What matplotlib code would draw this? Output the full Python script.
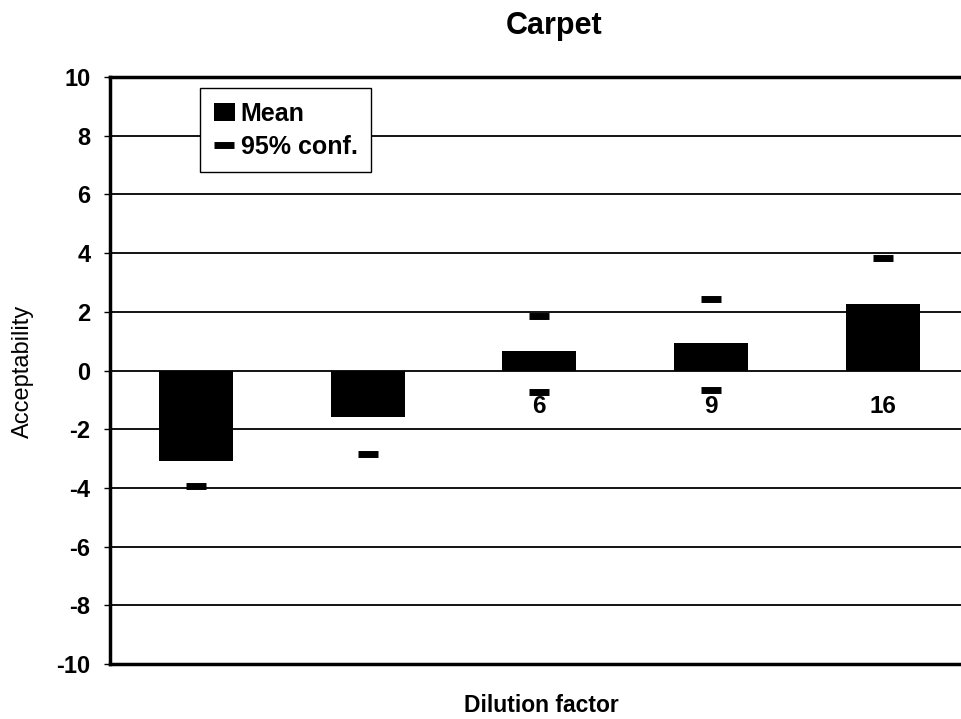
import matplotlib
matplotlib.use("Agg")
import matplotlib.pyplot as plt
import numpy as np

categories = ["2", "4", "6", "9", "16"]
mean_values = [-3.1, -1.6, 0.68, 0.92, 2.25]
conf_upper = [-2.2, -0.3, 1.87, 2.45, 3.82]
conf_lower = [-3.95, -2.86, -0.72, -0.68, 0.7]
y_ticks = [-10, -8, -6, -4, -2, 0, 2, 4, 6, 8, 10]

plt.rcParams['font.family'] = ['Liberation Sans', 'DejaVu Sans']

fig = plt.figure(figsize=(9.61, 7.19), dpi=100)
ax = fig.add_axes([110/961, 55/719, 1 - 110/961, (664-77)/719])

x = np.arange(len(categories))

for yv in y_ticks:
    ax.axhline(yv, color='black', lw=1.3, zorder=1)

# category labels at axis crossing (behind bars)
for xi, lab in zip(x, categories):
    ax.annotate(lab, (xi, 0), xytext=(0, -26), textcoords='offset points',
                ha='center', va='center', fontsize=17.5, fontweight='bold', zorder=1.5)

ax.plot(x, conf_upper, linestyle='none', marker='_', markersize=15,
        markeredgewidth=5, color='black', zorder=2, label='95% conf.')
ax.plot(x, conf_lower, linestyle='none', marker='_', markersize=15,
        markeredgewidth=5, color='black', zorder=2)
ax.bar(x, mean_values, width=0.43, color='black', zorder=3, label='Mean')

ax.set_xlim(-0.5, 4.455)
ax.set_ylim(-10, 10)
ax.set_yticks(y_ticks)
ax.set_yticklabels([str(v) for v in y_ticks], fontsize=17, fontweight='bold')
ax.set_xticks([])
ax.tick_params(axis='y', length=4, width=1, pad=10)

for s in ['left', 'top', 'bottom']:
    ax.spines[s].set_linewidth(2.5)
ax.spines['right'].set_visible(False)

fig.text(554/961, 1 - 26/719, 'Carpet', fontsize=22, fontweight='bold',
         ha='center', va='center')
fig.text(23/961, 1 - 371/719, 'Acceptability', fontsize=17, rotation=90,
         ha='center', va='center')
fig.text(541/961, 1 - 705/719, 'Dilution factor', fontsize=16.5, fontweight='bold',
         ha='center', va='center')

handles, labels = ax.get_legend_handles_labels()
order = [labels.index('Mean'), labels.index('95% conf.')]
leg = ax.legend([handles[i] for i in order], [labels[i] for i in order],
                loc='upper left', bbox_to_anchor=(200/961, 1 - 88/719),
                bbox_transform=fig.transFigure, borderaxespad=0,
                fancybox=False, framealpha=1, edgecolor='black',
                prop={'size': 18, 'weight': 'bold'}, handlelength=0.84,
                handleheight=0.72, handletextpad=0.24, borderpad=0.55,
                labelspacing=0.35)
leg.get_frame().set_linewidth(1)

fig.savefig('out.png', dpi=100)
